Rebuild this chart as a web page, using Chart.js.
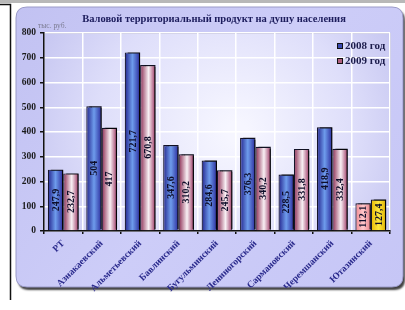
<!DOCTYPE html>
<html><head><meta charset="utf-8">
<script src="https://cdn.jsdelivr.net/npm/chart.js@4/dist/chart.umd.min.js"></script>
<style>html,body{margin:0;padding:0;background:#fff;}#wrap{position:relative;width:405px;height:310px;}</style>
</head><body><div id="wrap"><canvas id="c" width="405" height="310"></canvas></div>
<script>
const categories = ["РТ","Азнакаевский","Альметьевский","Бавлинский","Бугульминский","Лениногорский","Сармановский","Черемшанский","Ютазинский"];
const values2008 = [247.9,504,721.7,347.6,284.6,376.3,228.5,418.9,112.1];
const values2009 = [232.7,417,670.8,310.2,245.7,340.2,331.8,332.4,127.4];
const seriesNames = ["2008 год","2009 год"];
const yTicks = [0,100,200,300,400,500,600,700,800];
const titleText = "Валовой территориальный продукт на душу населения";
const unitText = "тыс. руб.";

const SERIF = "'Liberation Serif','DejaVu Serif',serif";
const CAT_PCT = 0.8;

function barGrad(ctx, dsIndex){
  const chart = ctx.chart;
  const i = ctx.dataIndex;
  const last = i === categories.length-1;
  const fallback = last ? (dsIndex===0 ? '#f4a0a8' : '#ffd000') : (dsIndex===0 ? '#4a5ac0' : '#c07090');
  const xs = chart.scales && chart.scales.x;
  if(!xs || !isFinite(xs.left) || xs.right<=xs.left) return fallback;
  const catW = (xs.right - xs.left)/categories.length;
  const w = catW*CAT_PCT/2;
  const center = xs.getPixelForValue(i);
  if(!isFinite(center)) return fallback;
  const x0 = dsIndex===0 ? center - w : center;
  const x1 = x0 + w;
  const g = chart.ctx.createLinearGradient(x0,0,x1,0);
  if(last){
    if(dsIndex===0){ g.addColorStop(0,'#f08890'); g.addColorStop(0.5,'#ffc8cc'); g.addColorStop(1,'#e88088'); }
    else { g.addColorStop(0,'#e8b800'); g.addColorStop(0.5,'#ffe840'); g.addColorStop(1,'#e0b000'); }
    return g;
  }
  if(dsIndex===0){
    g.addColorStop(0,'#22228c'); g.addColorStop(0.5,'#6e9cec'); g.addColorStop(1,'#2a2a9c');
  } else {
    g.addColorStop(0,'#8a2850'); g.addColorStop(0.55,'#f8f0f4'); g.addColorStop(1,'#9c3664');
  }
  return g;
}

const decor = {
  id:'decor',
  beforeDraw(chart){
    const c = chart.ctx;
    c.save();
    c.fillStyle = '#b8b8b8'; c.fillRect(0,0,405,3);
    c.strokeStyle = '#111'; c.lineWidth = 1.5;
    c.beginPath(); c.moveTo(0,4.5); c.lineTo(10.5,4.5); c.lineTo(10.5,300); c.stroke();
    const px=16, py=7, pw=387, ph=280, r=11;
    function rr(){ c.beginPath(); c.moveTo(px+r,py); c.lineTo(px+pw-r,py); c.quadraticCurveTo(px+pw,py,px+pw,py+r);
      c.lineTo(px+pw,py+ph-r); c.quadraticCurveTo(px+pw,py+ph,px+pw-r,py+ph); c.lineTo(px+r,py+ph);
      c.quadraticCurveTo(px,py+ph,px,py+ph-r); c.lineTo(px,py+r); c.quadraticCurveTo(px,py,px+r,py); c.closePath(); }
    c.save();
    c.shadowColor='rgba(0,0,0,0.75)'; c.shadowOffsetX=2; c.shadowOffsetY=3; c.shadowBlur=2;
    rr();
    const pg = c.createLinearGradient(px,py,px+pw,py+ph);
    pg.addColorStop(0,'#c2c2f2'); pg.addColorStop(0.5,'#cdcdf8'); pg.addColorStop(1,'#c6c6f6');
    c.fillStyle = pg; c.fill();
    c.restore();
    rr(); c.strokeStyle='#9a9ac8'; c.lineWidth=1; c.stroke();
    const a = chart.chartArea;
    const cx=(a.left+a.right)/2, cy=(a.top+a.bottom)/2;
    const rg = c.createRadialGradient(cx+20,cy,10,cx,cy,(a.right-a.left)*0.6);
    rg.addColorStop(0,'#f6f6ff'); rg.addColorStop(0.6,'#dedefa'); rg.addColorStop(1,'#c4c4f0');
    c.fillStyle = rg; c.fillRect(a.left,a.top,a.right-a.left,a.bottom-a.top);
    c.strokeStyle='#a8a8d0'; c.lineWidth=1; c.strokeRect(a.left+0.5,a.top+0.5,a.right-a.left,a.bottom-a.top);
    c.fillStyle = '#1c1c5c'; c.font = "bold 10.5px "+SERIF; c.textAlign='center'; c.textBaseline='middle';
    c.fillText(titleText, 214, 19);
    c.fillStyle = '#7a7a90'; c.font = "7.5px "+SERIF; c.textAlign='left';
    c.fillText(unitText, 38, 26);
    c.restore();
  },
  beforeDatasetsDraw(chart){
    const c = chart.ctx;
    c.save();
    c.shadowColor='rgba(0,0,0,0.85)'; c.shadowOffsetX=3; c.shadowOffsetY=-1; c.shadowBlur=1;
  },
  afterDatasetsDraw(chart){
    const c = chart.ctx;
    c.restore();
    c.save();
    c.font = "bold 10px "+SERIF; c.fillStyle='#0e0e2a'; c.textAlign='center'; c.textBaseline='middle';
    chart.data.datasets.forEach((ds,di)=>{
      chart.getDatasetMeta(di).data.forEach((el,i)=>{
        const v = ds.data[i];
        const txt = String(v).replace('.',',');
        const cy = (el.y + el.base)/2;
        c.save(); c.translate(el.x+0.5, cy); c.rotate(-Math.PI/2); c.fillText(txt,0,0); c.restore();
      });
    });
    c.font = "bold 11px "+SERIF; c.textAlign='left';
    seriesNames.forEach((n,k)=>{
      const y = 46 + k*15;
      const x = 337;
      c.fillStyle = k===0 ? '#3a4ab0' : '#b06080';
      c.fillRect(x, y-3, 6, 6);
      c.strokeStyle='#111'; c.lineWidth=1; c.strokeRect(x+0.5,y-2.5,5,5);
      c.fillStyle='#1c1c4c';
      c.fillText(n, x+8, y+0.5);
    });
    c.restore();
  }
};

new Chart(document.getElementById('c'), {
  type:'bar',
  data:{
    labels: categories,
    datasets:[
      {label:seriesNames[0], data:values2008, backgroundColor:(ctx)=>barGrad(ctx,0), borderColor:'#14142a', borderWidth:1.2, categoryPercentage:CAT_PCT, barPercentage:1.0},
      {label:seriesNames[1], data:values2009, backgroundColor:(ctx)=>barGrad(ctx,1), borderColor:'#14142a', borderWidth:1.2, categoryPercentage:CAT_PCT, barPercentage:1.0}
    ]
  },
  plugins:[decor],
  options:{
    responsive:false, animation:false, devicePixelRatio:1,
    layout:{padding:{left:0,top:33,right:15,bottom:0}},
    plugins:{legend:{display:false}, tooltip:{enabled:false}, title:{display:false}},
    scales:{
      x:{
        grid:{display:true, color:'#ffffff', lineWidth:1.5, offset:true, drawTicks:true, tickColor:'#111', tickLength:3},
        border:{color:'#111', width:1.5},
        ticks:{color:'#2a2a8c', font:{family:SERIF, size:9.5, weight:'bold'}, minRotation:45, maxRotation:45, padding:4, autoSkip:false},
        afterFit(s){ s.height = 79; }
      },
      y:{
        min:0, max:800,
        afterBuildTicks(s){ s.ticks = yTicks.map(v=>({value:v})); },
        grid:{color:'#ffffff', lineWidth:1.5, drawTicks:true, tickColor:'#111', tickLength:4},
        border:{color:'#111', width:1.5},
        ticks:{color:'#1a1a1a', font:{family:SERIF, size:9.5, weight:'bold'}, padding:4},
        afterFit(s){ s.width = 44; }
      }
    }
  }
});
</script></body></html>
